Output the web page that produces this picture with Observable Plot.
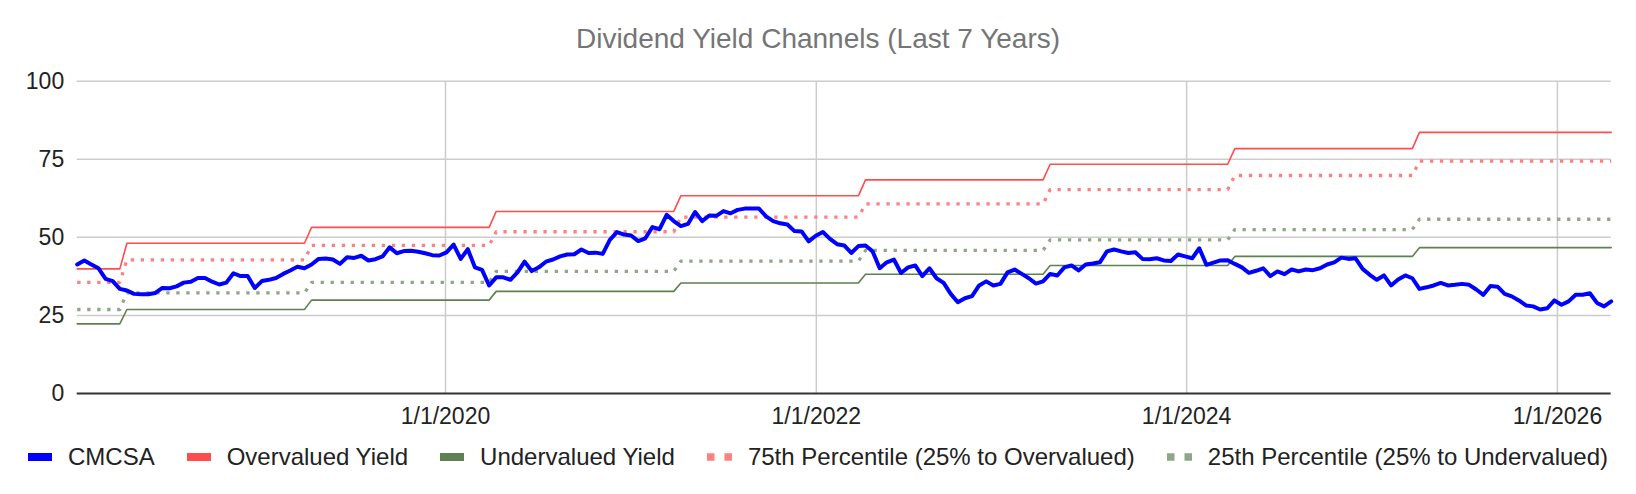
<!DOCTYPE html>
<html><head><meta charset="utf-8">
<script src="https://cdn.jsdelivr.net/npm/d3@7"></script>
<script src="https://cdn.jsdelivr.net/npm/@observablehq/plot@0.6"></script>
<style>
html,body{margin:0;padding:0;background:#fff;}
body{width:1636px;height:494px;overflow:hidden;font-family:"Liberation Sans",Arial,sans-serif;}
#title{height:60px;line-height:78px;text-align:center;font-size:28px;color:#757575;white-space:nowrap;}
#chart svg{display:block;}
#legend{height:44px;display:flex;justify-content:center;align-items:center;font-size:24px;color:#222;white-space:nowrap;}
.item{display:flex;align-items:center;margin:0 16px;}
.item svg{margin-right:16px;display:block;}
</style></head>
<body>
<div id="title">Dividend Yield Channels (Last 7 Years)</div>
<div id="chart"></div>
<div id="legend"></div>
<script>
// ---- data ----
const startDate = "2018-01-05";   // first biweekly sample
const stepDays = 14;
const cmcsa = [
 41.3,42.6,41.3,40.1,36.7,36.0,33.5,33.0,31.9,31.8,
 31.8,32.2,33.8,33.7,34.3,35.5,35.8,37.0,37.0,35.8,
 34.9,35.5,38.5,37.6,37.6,33.8,36.0,36.4,37.0,38.3,
 39.4,40.6,40.1,41.3,43.1,43.2,42.9,41.5,43.6,43.4,
 44.1,42.6,43.0,43.9,46.8,44.9,45.6,45.7,45.4,44.9,
 44.3,44.2,45.2,47.7,43.1,46.2,40.4,39.6,34.6,37.2,
 37.2,36.4,38.8,42.2,39.2,40.4,42.2,42.9,43.9,44.5,
 44.6,46.1,45.0,45.1,44.7,49.2,51.7,50.9,50.6,48.8,
 49.7,53.3,52.6,57.2,55.2,53.6,54.3,58.1,55.2,57.0,
 56.9,58.4,57.7,58.8,59.2,59.2,59.2,56.7,55.2,54.5,
 54.1,52.0,51.9,48.7,50.5,51.7,49.5,47.8,47.4,45.0,
 47.2,47.4,45.5,40.1,42.0,42.9,38.6,40.4,41.0,37.6,
 40.1,36.9,35.4,31.9,29.2,30.5,31.2,34.6,35.9,34.6,
 35.1,38.8,39.7,38.3,36.9,35.2,35.9,38.3,37.8,40.4,
 41.0,39.4,41.3,41.6,42.0,45.5,46.1,45.5,45.0,45.2,
 43.1,43.0,43.3,42.6,42.4,44.5,43.9,43.3,46.5,41.2,
 41.9,42.6,42.7,41.5,40.4,38.6,39.3,40.1,37.6,39.1,
 38.2,39.7,39.1,39.7,39.5,40.1,41.3,42.0,43.5,43.1,
 43.3,39.9,38.0,36.4,37.8,34.6,36.5,37.8,36.9,33.5,
 34.0,34.6,35.4,34.6,34.8,35.1,34.8,33.3,31.6,34.4,
 34.2,31.9,31.1,29.8,28.2,27.9,26.9,27.3,29.8,28.4,
 29.5,31.6,31.6,32.1,29.0,27.9,29.5
];
// yearly channel resets (first date each new level applies)
const levelChangeDates = ["2018-04-13","2019-04-12","2020-04-10","2021-04-09","2022-04-08","2023-04-07","2024-04-05","2025-04-04"];
const overLevels  = [39.9,48.1,53.2,58.3,63.3,68.4,73.4,78.4,83.6];
const p75Levels   = [35.6,42.8,47.4,51.8,56.5,60.7,65.3,69.8,74.4];
const p25Levels   = [26.9,32.2,35.6,39.1,42.4,45.8,49.2,52.5,55.8];
const underLevels = [22.3,26.9,29.9,32.7,35.4,38.2,41.0,43.9,46.7];

const yTicks = [0,25,50,75,100];
const xTickDates = ["2020-01-01","2022-01-01","2024-01-01","2026-01-01"];
const xTickLabels = ["1/1/2020","1/1/2022","1/1/2024","1/1/2026"];

const seriesNames  = ["CMCSA","Overvalued Yield","Undervalued Yield","75th Percentile (25% to Overvalued)","25th Percentile (25% to Undervalued)"];
const seriesColors = ["#0000ff","#ff4d4d","#5f8050","#ff8080","#8ea689"];
const seriesDotted = [false,false,false,true,true];

// ---- build table ----
const toDate = s => new Date(s + "T00:00:00Z");
const start = toDate(startDate);
const changes = levelChangeDates.map(toDate);
const rows = cmcsa.map((v,i) => {
  const d = d3.utcDay.offset(start, stepDays*i);
  const k = d3.bisectRight(changes, d);
  return {date:d, cmcsa:v, over:overLevels[k], under:underLevels[k], p75:p75Levels[k], p25:p25Levels[k]};
});
const xTicks = xTickDates.map(toDate);

const dot = {strokeWidth:3.3, strokeDasharray:"3.3,6.7", strokeLinecap:"butt"};
const chart = Plot.plot({
  width:1636, height:375,
  marginLeft:76.7, marginRight:25.3, marginTop:20.7, marginBottom:42,
  style:{fontFamily:"'Liberation Sans', Arial, sans-serif", fontSize:"23px", color:"#222", background:"#fff", overflow:"visible"},
  x:{type:"utc", domain:[rows[0].date, rows[rows.length-1].date]},
  y:{domain:[0,100]},
  marks:[
    Plot.ruleY(yTicks.filter(t=>t>0), {stroke:"#cccccc", strokeWidth:1.5}),
    Plot.ruleX(xTicks, {stroke:"#cccccc", strokeWidth:1.5}),
    Plot.ruleY([0], {stroke:"#333333", strokeWidth:2}),
    Plot.axisY({ticks:yTicks, tickSize:0, tickPadding:13, label:null, fill:"#222", fontSize:23}),
    Plot.axisX({ticks:xTicks, tickSize:0, tickPadding:14, label:null, fill:"#222", fontSize:23,
      tickFormat: d => xTickLabels[xTicks.findIndex(t => +t === +d)]}),
    Plot.line(rows, {x:"date", y:"p25", stroke:seriesColors[4], ...dot}),
    Plot.line(rows, {x:"date", y:"p75", stroke:seriesColors[3], ...dot}),
    Plot.line(rows, {x:"date", y:"under", stroke:seriesColors[2], strokeWidth:1.6, strokeLinejoin:"miter"}),
    Plot.line(rows, {x:"date", y:"over", stroke:seriesColors[1], strokeWidth:1.6, strokeLinejoin:"miter"}),
    Plot.line(rows, {x:"date", y:"cmcsa", stroke:seriesColors[0], strokeWidth:4})
  ]
});
document.getElementById("chart").appendChild(chart);

// ---- legend ----
const legend = document.getElementById("legend");
seriesNames.forEach((name,i) => {
  const item = document.createElement("div");
  item.className = "item";
  const sw = seriesDotted[i]
    ? `<svg width="25" height="8"><rect x="0" y="0.25" width="7.5" height="7.5" fill="${seriesColors[i]}"/><rect x="17.5" y="0.25" width="7.5" height="7.5" fill="${seriesColors[i]}"/></svg>`
    : `<svg width="24" height="8"><rect x="0" y="0" width="24" height="8" fill="${seriesColors[i]}"/></svg>`;
  item.innerHTML = sw + `<span>${name}</span>`;
  legend.appendChild(item);
});
</script>
</body></html>
